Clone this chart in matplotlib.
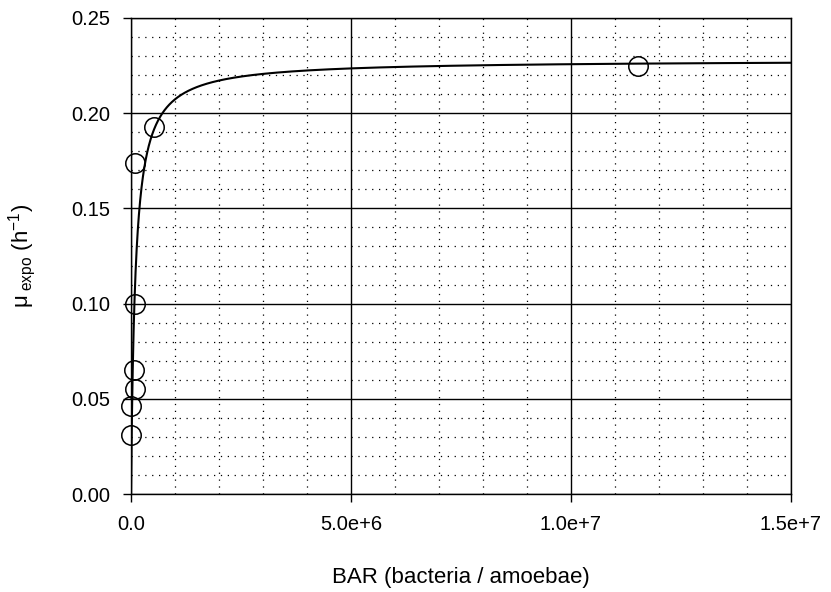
import numpy as np
import matplotlib.pyplot as plt
from matplotlib.ticker import MultipleLocator, FuncFormatter

plt.rcParams['font.family'] = ['Liberation Sans', 'DejaVu Sans']
plt.rcParams['mathtext.fontset'] = 'custom'
plt.rcParams['mathtext.rm'] = 'Liberation Sans'
plt.rcParams['mathtext.it'] = 'Liberation Sans'

# measured points
bar = [0.0, 0.0, 0.09e6, 0.08e6, 0.09e6, 0.09e6, 0.52e6, 11.52e6]
mu = [0.031, 0.046, 0.055, 0.065, 0.100, 0.174, 0.193, 0.225]

# fitted Monod curve
mu_max = 0.228
K = 1.0e5

fig = plt.figure(figsize=(8.31, 5.92), dpi=100)
ax = fig.add_axes([0.1576, 0.1655, 0.7942, 0.8041])

xfit = np.linspace(0, 1.5e7, 3000)
ax.plot(xfit, mu_max * xfit / (K + xfit), color='black', lw=1.5, zorder=3)
ax.plot(bar, mu, 'o', ms=14, mfc='none', mec='black', mew=1.1, zorder=4, clip_on=False)

ax.set_xlim(0, 1.5e7)
ax.set_ylim(0, 0.25)
ax.xaxis.set_major_locator(MultipleLocator(5e6))
ax.xaxis.set_minor_locator(MultipleLocator(1e6))
ax.yaxis.set_major_locator(MultipleLocator(0.05))
ax.yaxis.set_minor_locator(MultipleLocator(0.01))

def xfmt(v, pos):
    if v <= 0:
        return '0.0'
    e = int(np.floor(np.log10(v)))
    return '%.1fe+%d' % (v / 10**e, e)

ax.xaxis.set_major_formatter(FuncFormatter(xfmt))
ax.yaxis.set_major_formatter(FuncFormatter(lambda v, p: '%.2f' % v))

ax.grid(which='major', color='black', lw=1, ls='-')
ax.grid(which='minor', color='black', lw=0.9, ls=(0, (1, 4.5)))
ax.set_axisbelow(True)
ax.tick_params(which='major', direction='out', length=6, width=1, labelsize=14.5, pad=9)
ax.tick_params(which='minor', length=0)
for s in ax.spines.values():
    s.set_linewidth(1)

ax.set_xlabel('BAR (bacteria / amoebae)', fontsize=16, labelpad=24)
ax.set_ylabel(r'$\mu_{\rm\ expo}$ (h$^{-1}$)', fontsize=16, labelpad=24)

plt.savefig('out.png', dpi=100)
